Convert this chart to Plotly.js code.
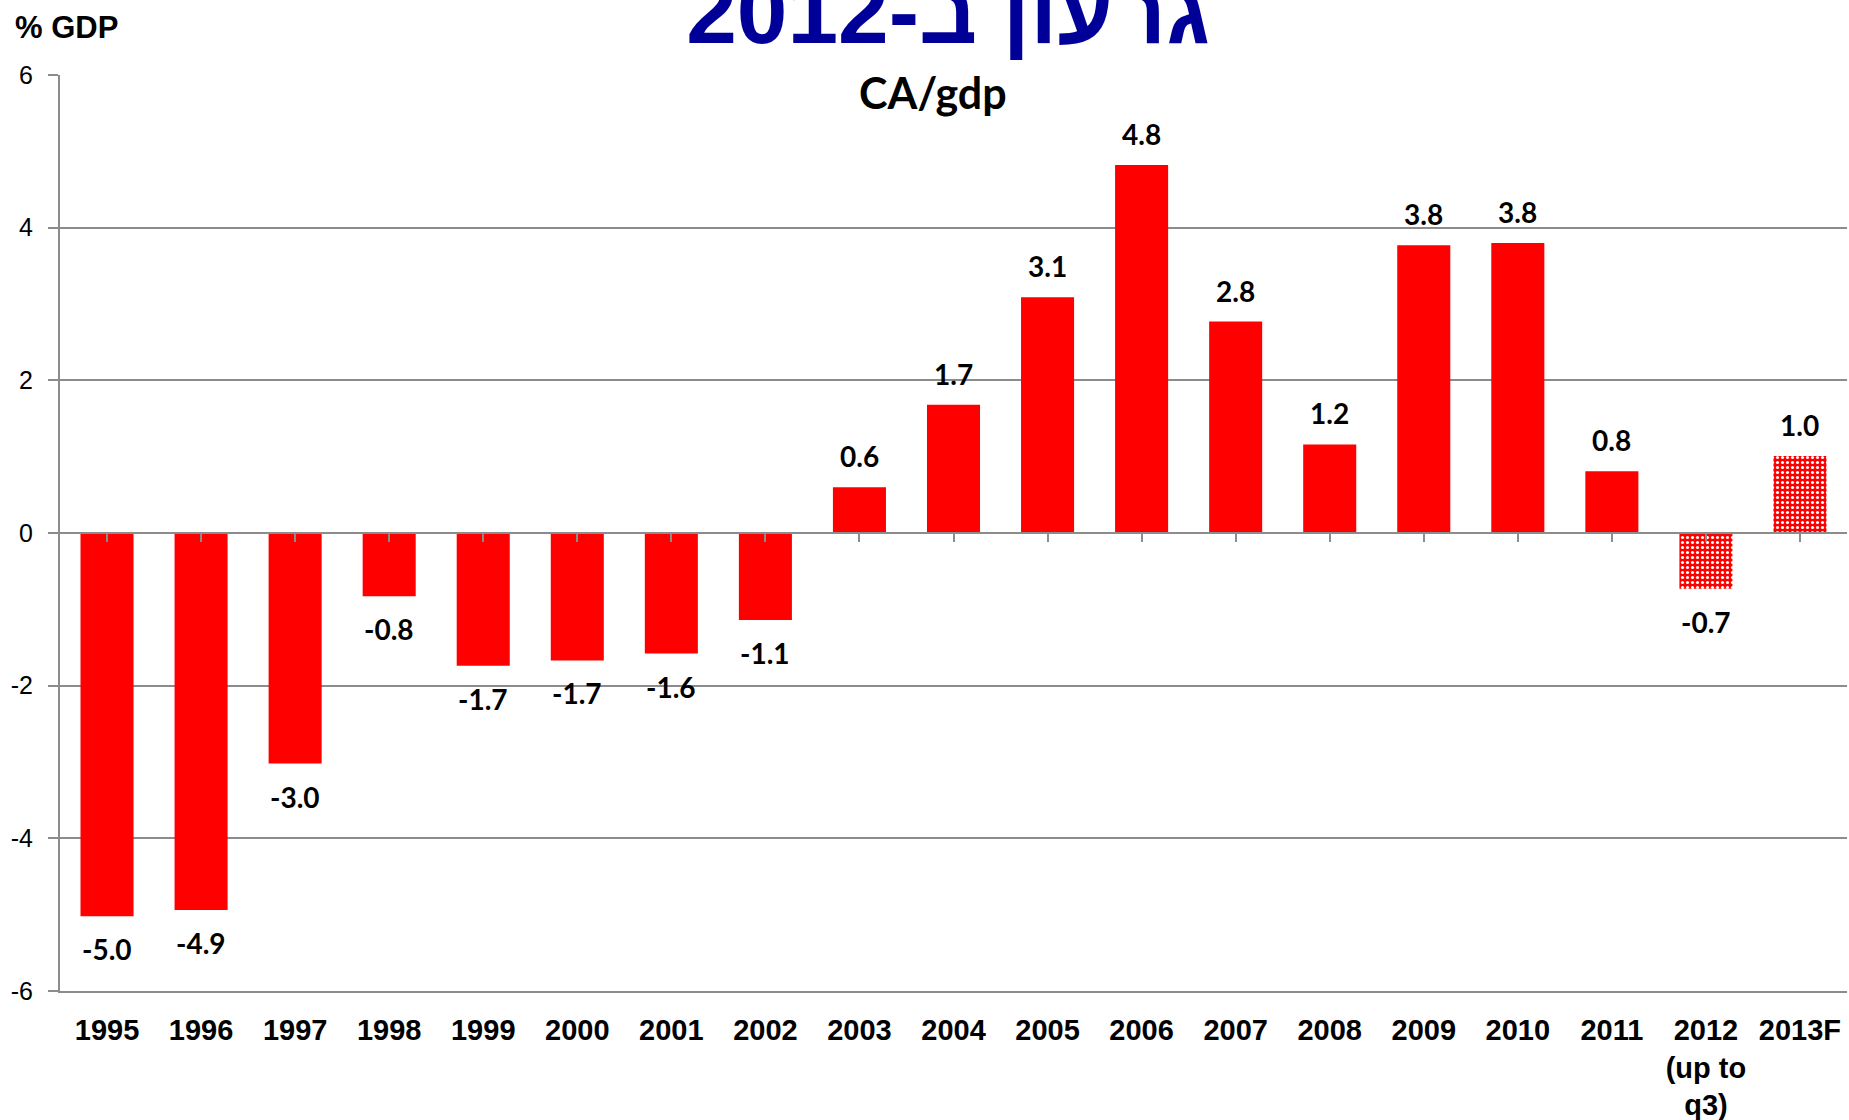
<!DOCTYPE html>
<html>
<head>
<meta charset="utf-8">
<script src="https://cdn.plot.ly/plotly-3.0.1.min.js"></script>
<style>html,body{margin:0;padding:0;background:#fff;}#chart{width:1849px;height:1120px;}</style>
</head>
<body>
<div id="chart"></div>
<script>
// ---- data ----
const categories = ['1995','1996','1997','1998','1999','2000','2001','2002','2003','2004','2005','2006','2007','2008','2009','2010','2011','2012<br>(up to<br>q3)','2013F'];
const caValues = [-5.02,-4.94,-3.02,-0.83,-1.74,-1.67,-1.58,-1.14,0.60,1.68,3.09,4.82,2.77,1.16,3.77,3.80,0.81,-0.73,1.01];
const isEstimate = [false,false,false,false,false,false,false,false,false,false,false,false,false,false,false,false,false,true,true];
const yTickVals = [-6,-4,-2,0,2,4,6];
const yTickText = ['-6','-4','-2','0','2','4','6'];
const titleText = 'גרעון ב-2012';
const subtitleText = 'CA/gdp';
const unitText = '% GDP';

// ---- plot geometry helpers (pixel to paper) ----
const W = 1849, H = 1120;
const M = {l: 60, r: 2, t: 75, b: 129};
const pw = W - M.l - M.r, ph = H - M.t - M.b;
const px = x => (x - M.l) / pw;
const py = y => (H - M.b - y) / ph;

const grey = '#8c8c8c';
const red = '#ff0000';

const bars = {
  type: 'bar',
  x: categories,
  y: caValues,
  marker: {
    color: red,
    line: {width: 0},
    pattern: {
      shape: isEstimate.map(e => e ? '.' : ''),
      bgcolor: red,
      fgcolor: '#ffffff',
      size: 5,
      solidity: 0.3
    }
  },
  hoverinfo: 'x+y'
};

const axisCarrier = {
  type: 'scatter',
  mode: 'markers',
  x: categories,
  y: caValues,
  xaxis: 'x2',
  marker: {opacity: 0},
  hoverinfo: 'skip',
  showlegend: false
};

const labelFont = {family: 'Lato, Carlito, sans-serif', size: 28, color: '#000', weight: 'bold'};
const annotations = caValues.map((v, i) => ({
  x: i, y: v, xref: 'x', yref: 'y',
  text: v.toFixed(1),
  showarrow: false,
  yanchor: 'middle',
  yshift: v >= 0 ? 31 : -33,
  font: labelFont
}));
annotations.push({
  xref: 'paper', yref: 'paper', x: px(933), y: py(92),
  xanchor: 'center', yanchor: 'middle', showarrow: false,
  text: subtitleText,
  font: {family: 'Lato, Carlito, sans-serif', size: 43, color: '#000', weight: 'bold'}
});
annotations.push({
  xref: 'paper', yref: 'paper', x: px(13), y: py(27),
  xanchor: 'left', yanchor: 'middle', showarrow: false,
  text: unitText,
  font: {family: 'Liberation Sans, Arial, sans-serif', size: 31, color: '#000', weight: 'bold'}
});

const layout = {
  width: W, height: H,
  margin: M,
  paper_bgcolor: '#fff',
  plot_bgcolor: '#fff',
  showlegend: false,
  bargap: 0.436,
  title: {
    text: titleText,
    xref: 'container', yref: 'container',
    x: 948 / W, xanchor: 'center',
    y: 1 - 43 / H, yanchor: 'bottom',
    font: {family: 'Liberation Sans, Arial, DejaVu Sans, sans-serif', size: 91, color: '#000099', weight: 'bold'}
  },
  xaxis: {
    type: 'category',
    categoryorder: 'array', categoryarray: categories,
    range: [-0.5, categories.length - 0.5],
    showgrid: false,
    showline: true, linecolor: grey, linewidth: 2,
    ticks: '',
    ticklabelstandoff: 12,
    tickfont: {family: 'Liberation Sans, Arial, sans-serif', size: 29, color: '#000', weight: 'bold'},
    fixedrange: true
  },
  xaxis2: {
    type: 'category',
    overlaying: 'x',
    anchor: 'free',
    position: 0.5,
    categoryorder: 'array', categoryarray: categories,
    range: [-0.5, categories.length - 0.5],
    showgrid: false,
    showline: true, linecolor: grey, linewidth: 2,
    ticks: 'outside', ticklen: 8, tickwidth: 2, tickcolor: grey,
    showticklabels: false,
    layer: 'above traces',
    fixedrange: true
  },
  yaxis: {
    range: [-6, 6],
    tickmode: 'array', tickvals: yTickVals, ticktext: yTickText,
    showgrid: true, gridcolor: grey, gridwidth: 2,
    zeroline: false,
    showline: true, linecolor: grey, linewidth: 2,
    ticks: 'outside', ticklen: 10, tickwidth: 2, tickcolor: grey,
    ticklabelstandoff: 10,
    tickfont: {family: 'Liberation Sans, Arial, sans-serif', size: 25, color: '#000'},
    fixedrange: true
  },
  annotations: annotations
};

Plotly.newPlot('chart', [bars, axisCarrier], layout, {displayModeBar: false, staticPlot: true});
</script>
</body>
</html>
